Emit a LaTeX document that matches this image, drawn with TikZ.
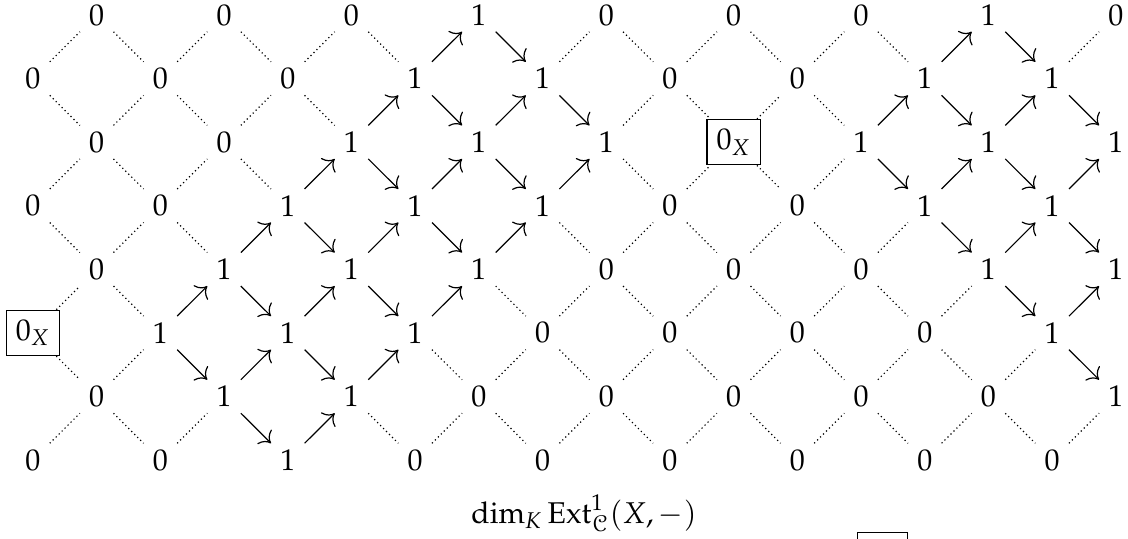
\documentclass[tikz,border=0pt]{standalone}
\usepackage{mathpazo}
\usepackage{eucal}
\usepackage{tikz}
\usetikzlibrary{arrows.meta}

\begin{document}
\begin{tikzpicture}[
        x=21.23pt,y=-21.19pt,
        entry/.style={inner sep=2.9pt},
        framed/.style={draw,thin,inner sep=3.2pt},
        ext/.style={-{Computer Modern Rightarrow[scale=1.3]},thin},
        noext/.style={densely dotted,thin}
    ]
    \useasboundingbox (-0.518,-0.236) rectangle (17.19,8.227);

    \foreach \r/\vals in {0/{0,0,0,1,0,0,0,1,0},
                          1/{0,0,0,1,1,0,0,1,1},
                          2/{0,0,1,1,1,2,1,1,1},
                          3/{0,0,1,1,1,0,0,1,1},
                          4/{0,1,1,1,0,0,0,1,1},
                          5/{2,1,1,1,0,0,0,0,1},
                          6/{0,1,1,0,0,0,0,0,1},
                          7/{0,0,1,0,0,0,0,0,0}}
        \foreach \v [count=\i from 0] in \vals {
            \pgfmathtruncatemacro\k{2*\i+1-mod(\r,2)}
            \ifnum\v=2
                \node[framed] (n-\r-\k) at (\k,\r) {$0_X$};
            \else
                \node[entry] (n-\r-\k) at (\k,\r) {$\v$};
            \fi
            \expandafter\xdef\csname val-\r-\k\endcsname{\v}
        }

    \foreach \r in {0,...,6}
        \foreach \k in {0,...,17} {
            \pgfmathtruncatemacro\s{\r+1}
            \pgfmathtruncatemacro\kl{\k-1}
            \pgfmathtruncatemacro\kr{\k+1}
            \ifcsname val-\r-\k\endcsname
                \ifcsname val-\s-\kl\endcsname
                    \ifnum\csname val-\r-\k\endcsname\csname val-\s-\kl\endcsname=11
                        \draw[ext] (n-\s-\kl) -- (n-\r-\k);
                    \else
                        \draw[noext] (n-\s-\kl) -- (n-\r-\k);
                    \fi
                \fi
                \ifcsname val-\s-\kr\endcsname
                    \ifnum\csname val-\r-\k\endcsname\csname val-\s-\kr\endcsname=11
                        \draw[ext] (n-\r-\k) -- (n-\s-\kr);
                    \else
                        \draw[noext] (n-\r-\k) -- (n-\s-\kr);
                    \fi
                \fi
            \fi
        }

    \node (caption) at (8.65,7.84) {$\dim_K \mathrm{Ext}^1_{\mathcal{C}}(X,-)$};
    \node[framed,minimum width=16.7pt,minimum height=13.9pt] (next) at (13.34,8.47) {};
\end{tikzpicture}
\end{document}
